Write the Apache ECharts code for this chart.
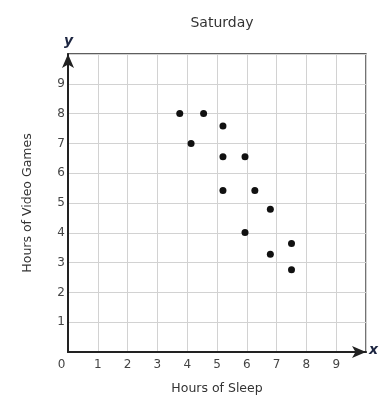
<!DOCTYPE html>
<html>
<head>
<meta charset="utf-8">
<script src="https://cdn.jsdelivr.net/npm/echarts@6/dist/echarts.min.js"></script>
<style>html,body{margin:0;padding:0;background:#fff;}#c{width:391px;height:409px;}</style>
</head>
<body>
<div id="c"></div>
<script>
var titleText = 'Saturday';
var xName = 'Hours of Sleep';
var yName = 'Hours of Video Games';
var sleepHours = [3.75, 4.55, 5.2, 4.13, 5.2, 5.94, 5.2, 6.27, 6.79, 5.94, 7.5, 6.79, 7.5];
var gameHours  = [8.0, 8.0, 7.58, 7.0, 6.55, 6.55, 5.42, 5.42, 4.79, 4.01, 3.64, 3.28, 2.76];
var tickLabels = ['0','1','2','3','4','5','6','7','8','9'];

var points = sleepHours.map(function(x, i){ return [x, gameHours[i]]; });
var font = 'DejaVu Sans';
var chart = echarts.init(document.getElementById('c'), null, {renderer:'canvas'});
chart.setOption({
  animation: false,
  backgroundColor: '#fff',
  title: {
    text: titleText, left: 217, top: 11, textAlign: 'center',
    textStyle: {fontFamily: font, fontSize: 14, fontWeight: 'normal', color: '#333'}
  },
  grid: {left: 68, right: 25, top: 54, bottom: 57, show: true, borderColor: '#2a2a2a', borderWidth: 1.3, backgroundColor: 'transparent'},
  xAxis: {
    type: 'value', min: 0, max: 10, interval: 1,
    name: xName, nameLocation: 'middle', nameGap: 30,
    nameTextStyle: {fontFamily: font, fontSize: 12.5, color: '#333'},
    axisLine: {lineStyle: {color: '#222', width: 2}, symbol: ['none', 'arrow'], symbolSize: [9, 14]},
    axisTick: {show: false},
    splitLine: {lineStyle: {color: '#d2d2d2', width: 1}},
    axisLabel: {
      fontFamily: font, fontSize: 12, color: '#444', margin: 7,
      formatter: function(v){
        var i = Math.round(v);
        if (i === 0) return '{z|' + tickLabels[0] + '}';
        return i < tickLabels.length ? tickLabels[i] : '';
      },
      rich: {z: {fontFamily: font, fontSize: 12, color: '#444', padding: [0, 13, 0, 0]}}
    }
  },
  yAxis: {
    type: 'value', min: 0, max: 10, interval: 1,
    name: yName, nameLocation: 'middle', nameGap: 34,
    nameTextStyle: {fontFamily: font, fontSize: 12.5, color: '#333'},
    axisLine: {lineStyle: {color: '#222', width: 2}, symbol: ['none', 'arrow'], symbolSize: [9, 14]},
    axisTick: {show: false},
    splitLine: {lineStyle: {color: '#d2d2d2', width: 1}},
    axisLabel: {
      fontFamily: font, fontSize: 12, color: '#444', margin: 3,
      formatter: function(v){
        var i = Math.round(v);
        return (i > 0 && i < tickLabels.length) ? tickLabels[i] : '';
      }
    }
  },
  graphic: [
    {type: 'text', left: 64, top: 34, style: {text: 'y', font: 'italic bold 14px "DejaVu Sans"', fill: '#1c2540'}},
    {type: 'text', left: 369, top: 343, style: {text: 'x', font: 'italic bold 14px "DejaVu Sans"', fill: '#1c2540'}}
  ],
  series: [{
    type: 'scatter', data: points, symbolSize: 7,
    itemStyle: {color: '#111', opacity: 1}
  }]
});
</script>
</body>
</html>
